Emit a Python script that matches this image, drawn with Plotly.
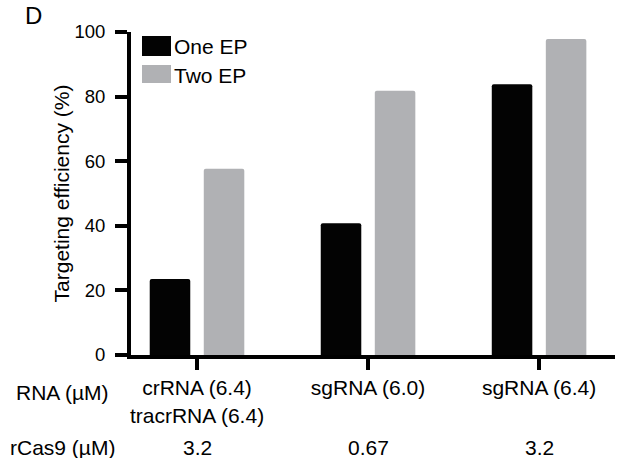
import plotly.graph_objects as go

# ---- data ----
series_names = ["One EP", "Two EP"]
one_ep = [23.5, 40.8, 83.8]
two_ep = [57.7, 81.8, 97.8]
rna_labels = ["crRNA (6.4)<br>tracrRNA (6.4)", "sgRNA (6.0)", "sgRNA (6.4)"]
rcas9_labels = ["3.2", "0.67", "3.2"]
y_ticks = [0, 20, 40, 60, 80, 100]
y_title = "Targeting efficiency (%)"
row_headers = ["RNA (µM)", "rCas9 (µM)"]
panel_label = "D"

# ---- layout geometry (pixels) ----
W, H = 617, 458
L, R, T, B = 131, 2, 32, 103
PW = W - L - R
PH = H - T - B

def px(x):
    return (x - L) / PW

def py(y):
    return (H - B - y) / PH

FONT = "Liberation Sans, Arial, Helvetica, sans-serif"
TXT = "#000000"
BLACK = "#030303"
GRAY = "#B0B1B4"
FS = 21
TFS = 18.5

xs = list(range(len(rna_labels)))
bw = 0.237
fig = go.Figure()
fig.add_trace(go.Bar(x=xs, y=one_ep, name=series_names[0], width=bw,
                     offset=-0.158 - bw / 2, marker=dict(color=BLACK, line=dict(width=0), cornerradius=2)))
fig.add_trace(go.Bar(x=xs, y=two_ep, name=series_names[1], width=bw,
                     offset=0.158 - bw / 2, marker=dict(color=GRAY, line=dict(width=0), cornerradius=2)))

fig.update_layout(
    width=W, height=H,
    margin=dict(l=L, r=R, t=T, b=B, pad=0),
    paper_bgcolor="white", plot_bgcolor="white",
    showlegend=False,
    font=dict(family=FONT, size=FS, color=TXT),
    xaxis=dict(range=[-0.386, 2.444], tickvals=xs, ticktext=rna_labels,
               showline=True, linewidth=4, linecolor="black",
               ticks="outside", ticklen=11, tickwidth=4, tickcolor="black",
               showgrid=False, zeroline=False, tickfont=dict(size=FS)),
    yaxis=dict(range=[0, 100], tickvals=y_ticks,
               showline=True, linewidth=4, linecolor="black",
               ticks="outside", ticklen=12, tickwidth=4, tickcolor="black",
               ticklabelstandoff=6,
               showgrid=False, zeroline=False, tickfont=dict(size=TFS),
               title=dict(text=y_title, font=dict(size=FS), standoff=0)),
)

# row headers
fig.add_annotation(text=row_headers[0], x=px(62), y=py(392), xref="paper", yref="paper",
                   showarrow=False, xanchor="center", yanchor="middle", font=dict(size=FS))
fig.add_annotation(text=row_headers[1], x=px(62), y=py(447), xref="paper", yref="paper",
                   showarrow=False, xanchor="center", yanchor="middle", font=dict(size=FS))
# rCas9 row
for xi, lab in zip(xs, rcas9_labels):
    fig.add_annotation(text=lab, x=xi, y=py(447), xref="x", yref="paper",
                       showarrow=False, xanchor="center", yanchor="middle", font=dict(size=FS))

# panel label
fig.add_annotation(text=panel_label, x=px(23), y=py(15), xref="paper", yref="paper",
                   showarrow=False, xanchor="left", yanchor="middle", font=dict(size=24))

# legend (swatches + labels)
sw = [(BLACK, 36, 56, 46.5), (GRAY, 65, 83, 75)]
for (col, y0, y1, yc), name in zip(sw, series_names):
    fig.add_shape(type="rect", xref="paper", yref="paper", x0=px(142), x1=px(171),
                  y0=py(y1), y1=py(y0), fillcolor=col, line=dict(width=0))
    fig.add_annotation(text=name, x=px(172), y=py(yc), xref="paper", yref="paper",
                       showarrow=False, xanchor="left", yanchor="middle", font=dict(size=FS))

fig.write_html("out.html")
